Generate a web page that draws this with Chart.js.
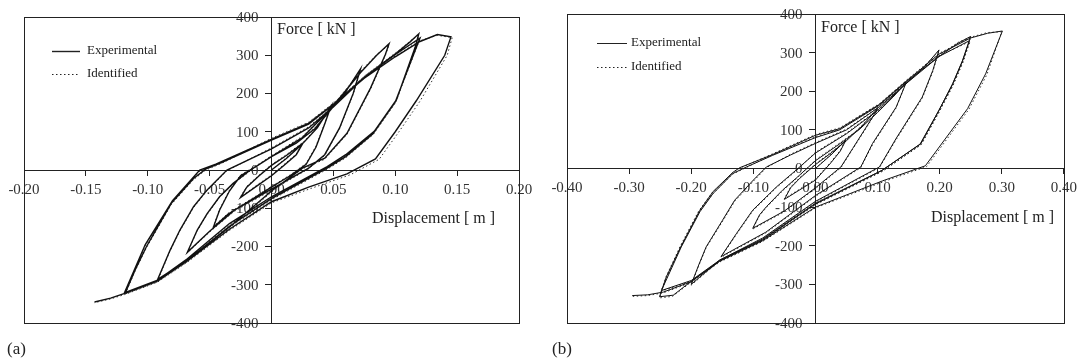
<!DOCTYPE html>
<html>
<head>
<meta charset="utf-8">
<title>Force - displacement loops</title>
<script src="https://cdn.jsdelivr.net/npm/chart.js@4.4.1/dist/chart.umd.min.js"></script>
<style>
  html, body { margin: 0; padding: 0; background: #fff; }
  #wrap { position: relative; width: 1083px; height: 361px; }
  canvas { position: absolute; top: 0; }
  #chartA { left: 0; }
  #chartB { left: 545px; }
</style>
</head>
<body>
<div id="wrap">
  <canvas id="chartA" width="545" height="361"></canvas>
  <canvas id="chartB" width="538" height="361"></canvas>
</div>
<script>
// series names (legend)
const seriesNames = ['Experimental', 'Identified'];

// tick values / labels
const xTicksA = [-0.20, -0.15, -0.10, -0.05, 0, 0.05, 0.10, 0.15, 0.20];
const xLabelsA = ['-0.20', '-0.15', '-0.10', '-0.05', '0.00', '0.05', '0.10', '0.15', '0.20'];
const xTicksB = [-0.40, -0.30, -0.20, -0.10, 0, 0.10, 0.20, 0.30, 0.40];
const xLabelsB = ['-0.40', '-0.30', '-0.20', '-0.10', '0.00', '0.10', '0.20', '0.30', '0.40'];
const yTicks = [-400, -300, -200, -100, 0, 100, 200, 300, 400];
const yLabels = ['-400', '-300', '-200', '-100', '0', '100', '200', '300', '400'];

// (a) displacement [m], force [kN] - experimental
const expA = [
  [0.000, 0], [0.012, 30], [0.025, 68],
  [0.020, 40], [0.010, 12], [0.000, -15], [-0.012, -42], [-0.025, -72],
  [-0.020, -45], [-0.010, -15], [0.000, 12], [0.012, 38], [0.026, 72], [0.037, 110], [0.048, 166],
  [0.043, 120], [0.036, 60], [0.028, 15], [0.015, -15], [0.000, -45], [-0.020, -85], [-0.035, -115], [-0.047, -150],
  [-0.042, -105], [-0.034, -55], [-0.025, -15], [-0.012, 10], [0.000, 35], [0.020, 70], [0.035, 108], [0.048, 158], [0.060, 205], [0.072, 265],
  [0.066, 200], [0.055, 110], [0.043, 40], [0.030, 5], [0.000, -50], [-0.030, -105], [-0.050, -160], [-0.068, -215],
  [-0.060, -157], [-0.052, -114], [-0.042, -70], [-0.031, -35], [-0.017, 0], [0.000, 35], [0.025, 85], [0.048, 160], [0.072, 255], [0.085, 300], [0.095, 330],
  [0.092, 302], [0.080, 214], [0.061, 96], [0.043, 31], [0.025, 5], [0.000, -55], [-0.034, -149], [-0.068, -236], [-0.092, -286],
  [-0.082, -210], [-0.074, -157], [-0.063, -96], [-0.052, -52], [-0.036, 0], [0.000, 55], [0.030, 110], [0.050, 165], [0.076, 245], [0.101, 306], [0.112, 335], [0.119, 356],
  [0.116, 320], [0.101, 184], [0.083, 101], [0.060, 40], [0.045, 9], [0.000, -70], [-0.034, -140], [-0.068, -232], [-0.092, -288], [-0.118, -320],
  [-0.110, -260], [-0.101, -200], [-0.081, -87], [-0.063, -22], [-0.053, 3], [-0.040, 20], [0.000, 78], [0.030, 120], [0.048, 166], [0.076, 245], [0.101, 304], [0.120, 345],
  [0.117, 320], [0.100, 178], [0.082, 95], [0.060, 35], [0.045, 5], [0.000, -75], [-0.034, -147], [-0.068, -236], [-0.092, -289], [-0.119, -322],
  [-0.102, -195], [-0.080, -80], [-0.058, 0], [-0.045, 15], [0.000, 80], [0.030, 122], [0.050, 172], [0.075, 240], [0.100, 296], [0.120, 336], [0.134, 354], [0.145, 348],
  [0.140, 300], [0.117, 181], [0.100, 100], [0.084, 29], [0.061, -10], [0.030, -45], [0.000, -83], [-0.034, -155], [-0.068, -238], [-0.092, -290], [-0.118, -322], [-0.130, -335], [-0.143, -345]
];
// (a) identified
const idA = [
  [0.000, 0], [0.012, 32], [0.025, 70],
  [0.020, 42], [0.010, 14], [0.000, -13], [-0.012, -40], [-0.025, -70],
  [-0.020, -43], [-0.010, -13], [0.000, 14], [0.012, 40], [0.026, 74], [0.037, 112], [0.048, 168],
  [0.043, 122], [0.036, 63], [0.028, 17], [0.015, -13], [0.000, -43], [-0.020, -83], [-0.035, -113], [-0.047, -148],
  [-0.042, -103], [-0.034, -53], [-0.025, -13], [-0.012, 12], [0.000, 37], [0.020, 72], [0.035, 110], [0.048, 160], [0.060, 207], [0.072, 262],
  [0.066, 198], [0.055, 108], [0.043, 38], [0.030, 3], [0.000, -53], [-0.030, -108], [-0.050, -162], [-0.068, -217],
  [-0.060, -159], [-0.052, -116], [-0.042, -72], [-0.031, -37], [-0.017, -2], [0.000, 37], [0.025, 88], [0.048, 163], [0.072, 258], [0.085, 302], [0.095, 327],
  [0.092, 300], [0.080, 211], [0.061, 93], [0.043, 28], [0.025, 3], [0.000, -58], [-0.034, -152], [-0.068, -239], [-0.092, -289],
  [-0.082, -212], [-0.074, -159], [-0.063, -98], [-0.052, -54], [-0.036, -2], [0.000, 58], [0.030, 113], [0.050, 168], [0.076, 248], [0.101, 308], [0.112, 337], [0.119, 354],
  [0.116, 318], [0.101, 181], [0.083, 98], [0.060, 37], [0.045, 6], [0.000, -73], [-0.034, -143], [-0.068, -235], [-0.092, -291], [-0.118, -323],
  [-0.110, -262], [-0.101, -203], [-0.081, -90], [-0.063, -25], [-0.053, 0], [-0.040, 18], [0.000, 81], [0.030, 123], [0.048, 169], [0.076, 248], [0.101, 306], [0.120, 343],
  [0.117, 318], [0.100, 175], [0.082, 92], [0.060, 32], [0.045, 2], [0.000, -78], [-0.034, -150], [-0.068, -239], [-0.092, -292], [-0.119, -325],
  [-0.102, -198], [-0.080, -83], [-0.058, -3], [-0.045, 12], [0.000, 83], [0.030, 125], [0.050, 175], [0.075, 243], [0.100, 298], [0.120, 338], [0.134, 352], [0.146, 346],
  [0.142, 300], [0.120, 180], [0.103, 100], [0.087, 28], [0.064, -12], [0.032, -48], [0.000, -86], [-0.034, -158], [-0.068, -241], [-0.092, -293], [-0.118, -325], [-0.130, -337], [-0.143, -347]
];

// (b) experimental
const expB = [
  [0.000, 0], [0.025, 35], [0.049, 73],
  [0.040, 45], [0.025, 15], [0.000, -30], [-0.025, -55], [-0.050, -80],
  [-0.040, -50], [-0.025, -25], [0.000, 10], [0.025, 40], [0.050, 72], [0.075, 110], [0.100, 155],
  [0.092, 133], [0.060, 52], [0.041, 4], [0.000, -50], [-0.050, -110], [-0.101, -155],
  [-0.090, -120], [-0.079, -99], [-0.053, -56], [-0.031, -25], [0.000, 20], [0.040, 65], [0.070, 100], [0.100, 145], [0.125, 185], [0.146, 222],
  [0.130, 159], [0.092, 65], [0.073, 4], [0.000, -70], [-0.080, -165], [-0.152, -228],
  [-0.127, -168], [-0.101, -108], [-0.063, -48], [-0.031, -4], [0.000, 40], [0.050, 90], [0.100, 150], [0.146, 220], [0.175, 262], [0.199, 307],
  [0.189, 254], [0.172, 185], [0.130, 78], [0.103, 4], [0.000, -85], [-0.085, -180], [-0.154, -237], [-0.200, -300],
  [-0.188, -250], [-0.176, -203], [-0.150, -135], [-0.130, -82], [-0.100, -30], [-0.079, 4], [-0.040, 35], [0.000, 65], [0.050, 100], [0.103, 160], [0.150, 225], [0.199, 290], [0.230, 325], [0.250, 342],
  [0.237, 280], [0.221, 220], [0.199, 151], [0.170, 65], [0.108, -4], [0.000, -90], [-0.085, -183], [-0.154, -237], [-0.200, -290], [-0.248, -316],
  [-0.216, -203], [-0.186, -112], [-0.165, -65], [-0.133, -13], [-0.111, 4], [-0.069, 34], [0.000, 80], [0.039, 100], [0.103, 164], [0.146, 224], [0.199, 290], [0.248, 331],
  [0.236, 275], [0.220, 215], [0.198, 148], [0.168, 62], [0.106, -6], [0.000, -92], [-0.085, -185], [-0.154, -238], [-0.200, -292], [-0.229, -328], [-0.251, -332],
  [-0.240, -280], [-0.216, -200], [-0.186, -108], [-0.165, -60], [-0.133, -10], [-0.122, 2], [-0.069, 36], [0.000, 86], [0.039, 103], [0.103, 166], [0.146, 226], [0.199, 296], [0.250, 338], [0.277, 350], [0.301, 356],
  [0.274, 245], [0.245, 155], [0.177, 7], [0.108, -32], [0.000, -100], [-0.085, -187], [-0.154, -240], [-0.200, -293], [-0.245, -320], [-0.270, -327], [-0.295, -329]
];
// (b) identified
const idB = [
  [0.000, 0], [0.025, 37], [0.049, 75],
  [0.040, 47], [0.025, 17], [0.000, -28], [-0.025, -53], [-0.050, -78],
  [-0.040, -48], [-0.025, -23], [0.000, 12], [0.025, 42], [0.050, 74], [0.075, 112], [0.100, 157],
  [0.092, 131], [0.060, 50], [0.041, 2], [0.000, -52], [-0.050, -112], [-0.101, -157],
  [-0.090, -122], [-0.079, -101], [-0.053, -58], [-0.031, -27], [0.000, 22], [0.040, 67], [0.070, 102], [0.100, 147], [0.125, 187], [0.146, 224],
  [0.130, 157], [0.092, 62], [0.073, 2], [0.000, -72], [-0.080, -167], [-0.152, -230],
  [-0.127, -170], [-0.101, -110], [-0.063, -50], [-0.031, -6], [0.000, 42], [0.050, 92], [0.100, 152], [0.146, 222], [0.175, 264], [0.199, 305],
  [0.189, 251], [0.172, 182], [0.130, 75], [0.103, 2], [0.000, -87], [-0.085, -182], [-0.154, -239], [-0.200, -302],
  [-0.188, -252], [-0.176, -205], [-0.150, -138], [-0.130, -85], [-0.100, -33], [-0.079, 2], [-0.040, 37], [0.000, 67], [0.050, 102], [0.103, 162], [0.150, 227], [0.199, 292], [0.230, 327], [0.250, 340],
  [0.238, 278], [0.222, 218], [0.200, 149], [0.171, 63], [0.109, -6], [0.000, -92], [-0.085, -185], [-0.154, -239], [-0.200, -292], [-0.249, -318],
  [-0.218, -205], [-0.188, -114], [-0.166, -67], [-0.134, -15], [-0.112, 2], [-0.069, 36], [0.000, 82], [0.039, 102], [0.103, 166], [0.146, 226], [0.199, 292], [0.249, 329],
  [0.237, 273], [0.221, 213], [0.199, 146], [0.169, 60], [0.107, -8], [0.000, -94], [-0.085, -187], [-0.154, -240], [-0.200, -294], [-0.230, -331], [-0.251, -335],
  [-0.241, -282], [-0.218, -202], [-0.188, -110], [-0.166, -62], [-0.134, -12], [-0.123, 0], [-0.069, 38], [0.000, 88], [0.039, 105], [0.103, 168], [0.146, 228], [0.199, 298], [0.250, 340], [0.277, 352], [0.300, 354],
  [0.276, 243], [0.247, 153], [0.179, 5], [0.110, -34], [0.000, -102], [-0.085, -189], [-0.154, -242], [-0.200, -295], [-0.245, -322], [-0.270, -329], [-0.294, -331]
];

const serif = "'Liberation Serif', 'Times New Roman', serif";

// y tick labels: Chart.js puts them right on a centred axis, so draw them
// left of the tick marks from the y scale
const yLabelPlugin = {
  id: 'yLabels',
  beforeDatasetsDraw(chart) {
    const ctx = chart.ctx;
    const xs = chart.scales.x;
    const ys = chart.scales.y;
    const x0 = xs.getPixelForValue(0) - 13;
    ctx.save();
    ctx.fillStyle = '#333';
    ctx.font = '15px ' + serif;
    ctx.textAlign = 'right';
    ctx.textBaseline = 'middle';
    yTicks.forEach((v, i) => {
      ctx.fillText(yLabels[i], x0, ys.getPixelForValue(v) + 1);
    });
    ctx.restore();
  }
};

// frame, axis titles, legend and panel letter
const decorPlugin = {
  id: 'decor',
  afterDraw(chart, args, o) {
    const ctx = chart.ctx;
    const a = chart.chartArea;
    ctx.save();
    ctx.strokeStyle = '#222';
    ctx.lineWidth = 1;
    ctx.setLineDash([]);
    ctx.strokeRect(Math.round(a.left) + 0.5, Math.round(a.top) + 0.5,
      Math.round(a.right - a.left), Math.round(a.bottom - a.top));

    ctx.fillStyle = '#222';
    ctx.textBaseline = 'middle';
    ctx.textAlign = 'left';
    ctx.font = '16px ' + serif;
    ctx.fillText('Force [ kN ]', o.forcePos[0], o.forcePos[1]);
    ctx.fillText('Displacement [ m ]', o.dispPos[0], o.dispPos[1]);

    // legend
    ctx.font = '13px ' + serif;
    chart.data.datasets.forEach((ds, i) => {
      const ly = o.legendY[i] + 0.5;
      ctx.beginPath();
      ctx.lineWidth = ds.borderWidth;
      ctx.setLineDash(ds.borderDash || []);
      ctx.moveTo(o.legendX[0], ly);
      ctx.lineTo(o.legendX[1], ly);
      ctx.stroke();
      ctx.fillText(ds.label, o.legendX[2], o.legendY[i]);
    });
    ctx.setLineDash([]);

    ctx.font = '17px ' + serif;
    ctx.fillText(o.letter, o.letterPos[0], o.letterPos[1]);
    ctx.restore();
  }
};

function toPoints(list) {
  return list.map(p => ({ x: p[0], y: p[1] }));
}

function makeChart(canvasId, exp, ident, xTicks, xLabels, padding, lineW, decor) {
  const ctx = document.getElementById(canvasId).getContext('2d');
  return new Chart(ctx, {
    type: 'scatter',
    data: {
      datasets: [
        { label: seriesNames[0], data: toPoints(exp), showLine: true, borderColor: '#111',
          borderWidth: lineW, pointRadius: 0, tension: 0, fill: false },
        { label: seriesNames[1], data: toPoints(ident), showLine: true, borderColor: '#333',
          borderWidth: 1, borderDash: [1.5, 2.5], pointRadius: 0, tension: 0, fill: false }
      ]
    },
    options: {
      responsive: false,
      animation: false,
      devicePixelRatio: 1,
      layout: { padding: padding },
      plugins: { legend: { display: false }, tooltip: { enabled: false }, decor: decor },
      scales: {
        x: {
          type: 'linear',
          position: { y: 0 },
          min: xTicks[0],
          max: xTicks[xTicks.length - 1],
          afterBuildTicks: s => { s.ticks = xTicks.map(v => ({ value: v })); },
          ticks: {
            autoSkip: false, maxRotation: 0, minRotation: 0, padding: 6,
            color: '#333', font: { family: serif, size: 15 },
            callback: (v, i) => xLabels[i]
          },
          grid: { drawOnChartArea: false, drawTicks: true, tickLength: 5, color: '#222', lineWidth: 1 },
          border: { display: true, color: '#222', width: 1 }
        },
        y: {
          type: 'linear',
          position: { x: 0 },
          min: -400,
          max: 400,
          afterBuildTicks: s => { s.ticks = yTicks.map(v => ({ value: v })); },
          ticks: { display: false },
          grid: { drawOnChartArea: false, drawTicks: true, tickLength: 6, color: '#222', lineWidth: 1 },
          border: { display: true, color: '#222', width: 1 }
        }
      }
    },
    plugins: [yLabelPlugin, decorPlugin]
  });
}

makeChart('chartA', expA, idA, xTicksA, xLabelsA,
  { left: 24, right: 26, top: 17, bottom: 38 }, 1.4,
  { forcePos: [277, 30], dispPos: [372, 219], legendX: [52, 80, 87], legendY: [51, 74],
    letter: '(a)', letterPos: [7, 350] });

makeChart('chartB', expB, idB, xTicksB, xLabelsB,
  { left: 22, right: 18, top: 14, bottom: 38 }, 1.0,
  { forcePos: [276, 28], dispPos: [386, 218], legendX: [52, 82, 86], legendY: [43, 67],
    letter: '(b)', letterPos: [7, 350] });
</script>
</body>
</html>
